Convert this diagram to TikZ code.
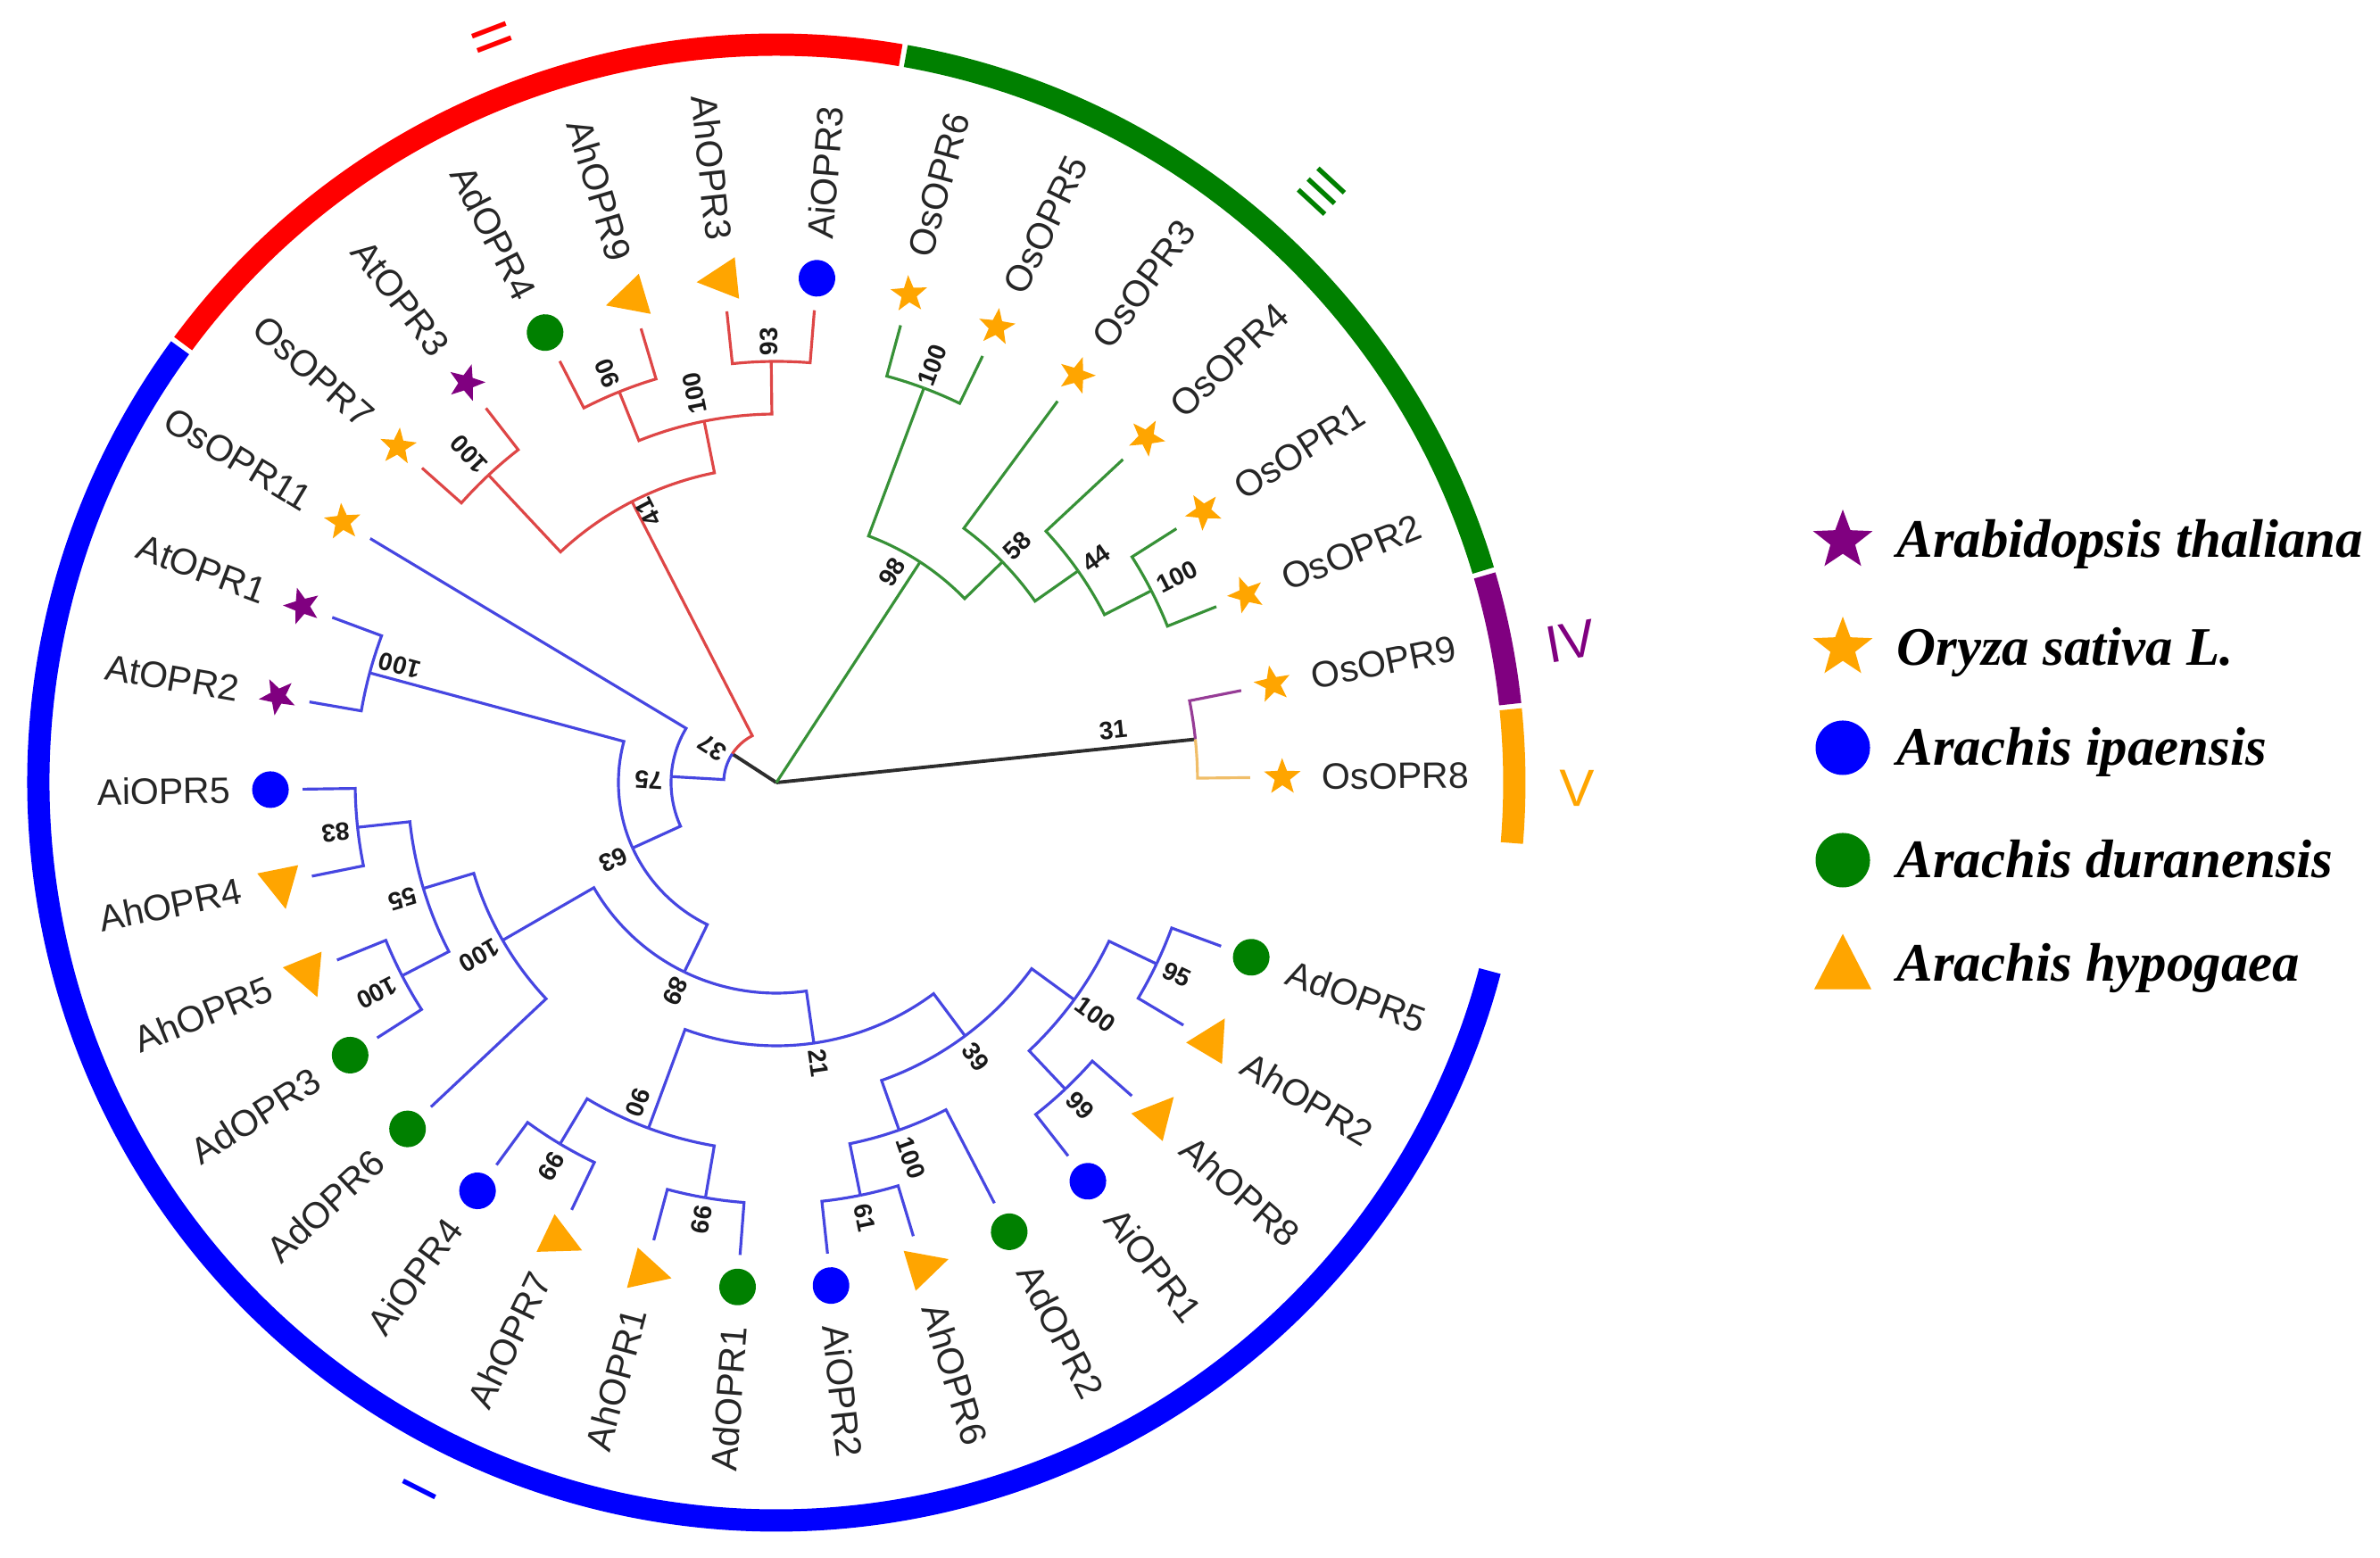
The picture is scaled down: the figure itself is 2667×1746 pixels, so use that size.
\documentclass[tikz,border=0pt]{standalone}
\usepackage{fontspec}
\setmainfont{Liberation Sans}
\newfontfamily\legendfont{Liberation Serif}
\usetikzlibrary{shapes.geometric}

\definecolor{cladered}{RGB}{255,0,0}
\definecolor{cladegreen}{RGB}{0,128,0}
\definecolor{cladepurple}{RGB}{128,0,128}
\definecolor{cladeorange}{RGB}{255,165,0}
\definecolor{cladeblue}{RGB}{0,0,255}
\definecolor{twigred}{RGB}{222,70,70}
\definecolor{twiggreen}{RGB}{55,145,55}
\definecolor{twigblue}{RGB}{70,70,225}
\definecolor{twigpurple}{RGB}{150,60,150}
\definecolor{twigorange}{RGB}{240,190,105}
\definecolor{twigroot}{RGB}{45,45,45}

% arc round the parent, then out to the child
\newcommand{\twig}[6]{\draw[twig, #1] (#2) arc[start angle=#3, end angle=#5, radius=#4] -- (#6);}

\begin{document}
\begin{tikzpicture}[x=0.01cm, y=0.01cm,
	twig/.style={line width=0.9pt, line join=miter},
	ringseg/.style={line width=7.1pt},
	leaf/.style={font=\fontsize{11.7}{14}\selectfont, text=black!85, inner sep=0pt},
	boot/.style={font=\bfseries\fontsize{8}{9}\selectfont, text=black!90, inner sep=0pt},
	numeral/.style={font=\fontsize{16.7}{20}\selectfont, inner sep=0pt},
	legendtext/.style={font=\legendfont\bfseries\itshape\fontsize{17.3}{20}\selectfont, inner sep=0pt, anchor=base west},
	starsym/.style={star, star points=5, star point ratio=2.4, inner sep=0pt, minimum size=0.43cm},
	dotsym/.style={circle, inner sep=0pt, minimum size=0.41cm},
	trisym/.style={regular polygon, regular polygon sides=3, inner sep=0pt, minimum size=0.54cm, yscale=1.12},
	atstar/.style={starsym, fill=cladepurple},
	osstar/.style={starsym, fill=cladeorange},
	aidot/.style={dotsym, fill=cladeblue},
	addot/.style={dotsym, fill=cladegreen},
	ahtri/.style={trisym, fill=cladeorange}]

\fill[white] (-870,-869) rectangle (1797,877);
\useasboundingbox (-870,-869) rectangle (1797,877);

% leaves, every 10.6 degrees
\foreach \k/\gene/\sym in {0/OsOPR8/osstar, 1/OsOPR9/osstar, 2/OsOPR2/osstar, 3/OsOPR1/osstar,
	4/OsOPR4/osstar, 5/OsOPR3/osstar, 6/OsOPR5/osstar, 7/OsOPR6/osstar, 8/AiOPR3/aidot,
	9/AhOPR3/ahtri, 10/AhOPR9/ahtri, 11/AdOPR4/addot, 12/AtOPR3/atstar, 13/OsOPR7/osstar,
	14/OsOPR11/osstar, 15/AtOPR1/atstar, 16/AtOPR2/atstar, 17/AiOPR5/aidot, 18/AhOPR4/ahtri,
	19/AhOPR5/ahtri, 20/AdOPR3/addot, 21/AdOPR6/addot, 22/AiOPR4/aidot, 23/AhOPR7/ahtri,
	24/AhOPR1/ahtri, 25/AdOPR1/addot, 26/AiOPR2/aidot, 27/AhOPR6/ahtri, 28/AdOPR2/addot,
	29/AiOPR1/aidot, 30/AhOPR8/ahtri, 31/AhOPR2/ahtri, 32/AdOPR5/addot}{
	\pgfmathsetmacro\ang{0.6+10.6*\k}
	\pgfmathtruncatemacro\isleft{and(\ang>90,\ang<270)}
	\coordinate (\gene) at (\ang:531);
	\node[rotate=\ang, \sym] (\gene-mark) at (\ang:567) {};
	\ifnum\isleft=1
		\pgfmathsetmacro\flip{\ang-180}
		\node[leaf, anchor=east, rotate=\flip] (\gene-name) at (\ang:611) {\gene};
	\else
		\node[leaf, anchor=west, rotate=\ang] (\gene-name) at (\ang:611) {\gene};
	\fi
}

% inner nodes, 59 per level
\coordinate (root) at (0,0);
\foreach \nd/\ang/\rad in {n37/146.97/59, n75/176.74/118, n63/204.49/177, n89/244.07/236,
	n21/278.19/295, n98/56.91/295, n41/117.2/354, n58/44.325/354, n100b1/209.95/354,
	n39/306.675/354, n44/35.05/413, n100b2/101.3/413, n55/196.7/413, n90a/249.7/413,
	n100c1/289.45/413, n100d1/323.9/413, n31/5.9/472, n100a3/69.5/472, n100b3/27.1/472,
	n100a2/133.1/472, n90b/111.9/472, n93/90.7/472, n100at/164.9/472, n83/186.1/472,
	n100a1/207.3/472, n99a/239.1/472, n99b/260.3/472, n61/281.5/472, n99c/313.3/472,
	n95/334.5/472}
	\coordinate (\nd) at (\ang:\rad);

% from the root
\draw[twig, twigroot, line width=1.1pt] (root) -- (n37);
\draw[twig, twigroot, line width=1.1pt] (root) -- (n31);
\draw[twig, twiggreen] (root) -- (n98);

% IV and V
\twig{twigpurple}{n31}{5.9}{472}{11.2}{OsOPR9}
\twig{twigorange}{n31}{5.9}{472}{0.6}{OsOPR8}

% III
\twig{twiggreen}{n98}{56.91}{295}{69.5}{n100a3}
\twig{twiggreen}{n98}{56.91}{295}{44.325}{n58}
\twig{twiggreen}{n100a3}{69.5}{472}{74.8}{OsOPR6}
\twig{twiggreen}{n100a3}{69.5}{472}{64.2}{OsOPR5}
\twig{twiggreen}{n58}{44.325}{354}{53.6}{OsOPR3}
\twig{twiggreen}{n58}{44.325}{354}{35.05}{n44}
\twig{twiggreen}{n44}{35.05}{413}{43.0}{OsOPR4}
\twig{twiggreen}{n44}{35.05}{413}{27.1}{n100b3}
\twig{twiggreen}{n100b3}{27.1}{472}{32.4}{OsOPR1}
\twig{twiggreen}{n100b3}{27.1}{472}{21.8}{OsOPR2}

% II
\twig{twigred}{n37}{146.97}{59}{117.2}{n41}
\twig{twigred}{n41}{117.2}{354}{133.1}{n100a2}
\twig{twigred}{n41}{117.2}{354}{101.3}{n100b2}
\twig{twigred}{n100a2}{133.1}{472}{138.4}{OsOPR7}
\twig{twigred}{n100a2}{133.1}{472}{127.8}{AtOPR3}
\twig{twigred}{n100b2}{101.3}{413}{111.9}{n90b}
\twig{twigred}{n100b2}{101.3}{413}{90.7}{n93}
\twig{twigred}{n90b}{111.9}{472}{117.2}{AdOPR4}
\twig{twigred}{n90b}{111.9}{472}{106.6}{AhOPR9}
\twig{twigred}{n93}{90.7}{472}{96.0}{AhOPR3}
\twig{twigred}{n93}{90.7}{472}{85.4}{AiOPR3}

% I
\twig{twigblue}{n37}{146.97}{59}{176.74}{n75}
\twig{twigblue}{n75}{176.74}{118}{149.0}{OsOPR11}
\twig{twigblue}{n75}{176.74}{118}{204.49}{n63}
\twig{twigblue}{n63}{204.49}{177}{164.9}{n100at}
\twig{twigblue}{n63}{204.49}{177}{244.07}{n89}
\twig{twigblue}{n100at}{164.9}{472}{159.6}{AtOPR1}
\twig{twigblue}{n100at}{164.9}{472}{170.2}{AtOPR2}
\twig{twigblue}{n89}{244.07}{236}{209.95}{n100b1}
\twig{twigblue}{n89}{244.07}{236}{278.19}{n21}
\twig{twigblue}{n100b1}{209.95}{354}{196.7}{n55}
\twig{twigblue}{n100b1}{209.95}{354}{223.2}{AdOPR6}
\twig{twigblue}{n55}{196.7}{413}{186.1}{n83}
\twig{twigblue}{n55}{196.7}{413}{207.3}{n100a1}
\twig{twigblue}{n83}{186.1}{472}{180.8}{AiOPR5}
\twig{twigblue}{n83}{186.1}{472}{191.4}{AhOPR4}
\twig{twigblue}{n100a1}{207.3}{472}{202.0}{AhOPR5}
\twig{twigblue}{n100a1}{207.3}{472}{212.6}{AdOPR3}
\twig{twigblue}{n21}{278.19}{295}{249.7}{n90a}
\twig{twigblue}{n21}{278.19}{295}{306.675}{n39}
\twig{twigblue}{n90a}{249.7}{413}{239.1}{n99a}
\twig{twigblue}{n90a}{249.7}{413}{260.3}{n99b}
\twig{twigblue}{n99a}{239.1}{472}{233.8}{AiOPR4}
\twig{twigblue}{n99a}{239.1}{472}{244.4}{AhOPR7}
\twig{twigblue}{n99b}{260.3}{472}{255.0}{AhOPR1}
\twig{twigblue}{n99b}{260.3}{472}{265.6}{AdOPR1}
\twig{twigblue}{n39}{306.675}{354}{289.45}{n100c1}
\twig{twigblue}{n39}{306.675}{354}{323.9}{n100d1}
\twig{twigblue}{n100c1}{289.45}{413}{281.5}{n61}
\twig{twigblue}{n100c1}{289.45}{413}{297.4}{AdOPR2}
\twig{twigblue}{n61}{281.5}{472}{276.2}{AiOPR2}
\twig{twigblue}{n61}{281.5}{472}{286.8}{AhOPR6}
\twig{twigblue}{n100d1}{323.9}{413}{313.3}{n99c}
\twig{twigblue}{n100d1}{323.9}{413}{334.5}{n95}
\twig{twigblue}{n99c}{313.3}{472}{308.0}{AiOPR1}
\twig{twigblue}{n99c}{313.3}{472}{318.6}{AhOPR8}
\twig{twigblue}{n95}{334.5}{472}{329.2}{AhOPR2}
\twig{twigblue}{n95}{334.5}{472}{339.8}{AdOPR5}

% bootstrap values
\foreach \ang/\rad/\rot/\val [count=\i] in {8.9/382/5.9/31, 69.5/499/69.5/100, 61.2/269/56.9/98,
	44.5/378/44.3/58, 35.1/438/35.0/44, 27.2/505/27.1/100, 115.4/335/117.2/41, 133.1/504/133.1/100,
	112.4/496/111.9/90, 101.9/446/101.3/100, 91.0/494/90.7/93, 151.3/82/147.0/37,
	178.7/143/176.7/75, 205.3/202/204.5/63, 244.2/260/244.1/89, 162.7/442/164.9/100,
	186.5/497/186.1/83, 197.3/439/196.7/55, 207.8/506/207.3/100, 210.2/385/210.0/100,
	246.6/391/249.7/90, 239.6/499/239.1/99, 260.3/497/260.3/99, 278.5/318/278.2/21,
	306.0/380/306.7/39, 289.7/447/289.5/100, 281.5/498/281.5/61, 313.2/497/313.3/99,
	324.0/442/323.9/100, 334.4/498/334.5/95}
	\node[boot, rotate=\rot] (boot\i) at (\ang:\rad) {\val};

% clade ring
\draw[ringseg, cladered] (80.3:827) arc[start angle=80.3, end angle=143.5, radius=827];
\draw[ringseg, cladegreen] (16.7:827) arc[start angle=16.7, end angle=79.9, radius=827];
\draw[ringseg, cladepurple] (6.1:827) arc[start angle=6.1, end angle=16.3, radius=827];
\draw[ringseg, cladeorange] (-4.7:827) arc[start angle=-4.7, end angle=5.7, radius=827];
\draw[ringseg, cladeblue] (143.9:827) arc[start angle=143.9, end angle=345.2, radius=827];

\node[numeral, text=cladered, rotate=-69.1] (numII) at (110.9:894) {II};
\node[numeral, text=cladegreen, rotate=47.3] (numIII) at (47.3:901) {III};
\node[numeral, text=cladepurple, rotate=10.1] (numIV) at (10.1:904) {IV};
\node[numeral, text=cladeorange, rotate=-0.4] (numV) at (-0.4:897) {V};
\node[numeral, text=cladeblue, rotate=63.2] (numI) at (243.2:887) {I};

% legend
\node[atstar, minimum size=0.70cm] (keyat) at (1195,271) {};
\node[osstar, minimum size=0.70cm] (keyos) at (1195,151) {};
\node[aidot, minimum size=0.61cm] (keyai) at (1195,39) {};
\node[addot, minimum size=0.61cm] (keyad) at (1195,-87) {};
\node[ahtri, minimum size=0.74cm] (keyah) at (1195,-211) {};
\node[legendtext] (keyat-name) at (1255,252) {Arabidopsis thaliana};
\node[legendtext] (keyos-name) at (1255,131) {Oryza sativa L.};
\node[legendtext] (keyai-name) at (1255,19) {Arachis ipaensis};
\node[legendtext] (keyad-name) at (1255,-107) {Arachis duranensis};
\node[legendtext] (keyah-name) at (1255,-223) {Arachis hypogaea};
\end{tikzpicture}
\end{document}
